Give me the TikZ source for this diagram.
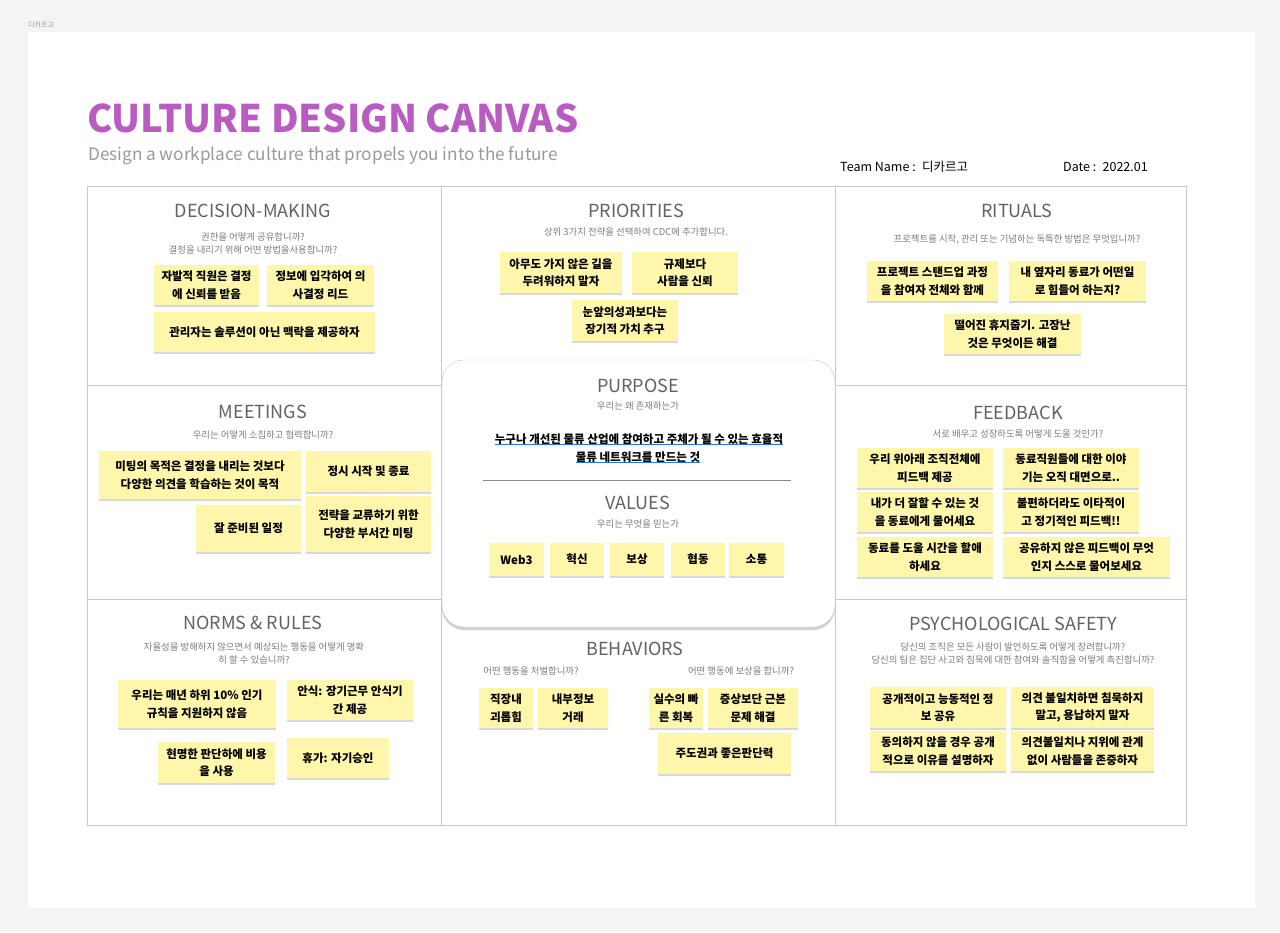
\documentclass[tikz,border=0pt]{standalone}
\usepackage{fontspec}
\setmainfont{Noto Sans CJK KR}
\usetikzlibrary{shadows}

\definecolor{canvasgray}{HTML}{F4F4F4}
\definecolor{titlepurple}{HTML}{B85CC2}
\definecolor{subgray}{HTML}{9A9A9A}
\definecolor{headgray}{HTML}{626262}
\definecolor{askgray}{HTML}{7C7C7C}
\definecolor{gridgray}{HTML}{C8C8C8}
\definecolor{noteyellow}{HTML}{FEF6AA}
\definecolor{linkblue}{HTML}{1F7AE0}

\tikzset{
  sticky/.style={fill=noteyellow, inner sep=0pt, align=center,
    font=\fontsize{11.5}{17.5}\selectfont\bfseries,
    drop shadow={shadow xshift=0pt, shadow yshift=-1.5pt, opacity=.25, fill=black!60}},
  size/.style 2 args={minimum width=#1pt, minimum height=#2pt},
  cellhead/.style={text=headgray, font=\fontsize{18}{20}\selectfont},
  cellask/.style={text=askgray, align=center, font=\fontsize{9.4}{13}\selectfont},
  gridline/.style={draw=gridgray, line width=1pt},
  purposeline/.style={font=\fontsize{11.5}{14}\selectfont\bfseries, inner sep=0pt},
}

\begin{document}
\begin{tikzpicture}[x=1pt, y=-1pt]

% page and canvas
\fill[canvasgray] (0,0) rectangle (1280,932);
\fill[white] (28,32) rectangle (1255,908);
\node[anchor=west, text=subgray, font=\fontsize{7}{8}\selectfont, inner sep=0pt] (board) at (28,25) {디카르고};

% header
\node[anchor=base west, inner sep=0pt, text=titlepurple, font=\fontsize{38}{38}\selectfont\bfseries] (title) at (87,132) {CULTURE DESIGN CANVAS};
\node[anchor=base west, inner sep=0pt, text=subgray, font=\fontsize{17.2}{20}\selectfont] (subtitle) at (88,160) {Design a workplace culture that propels you into the future};
\node[anchor=west, inner sep=0pt, font=\fontsize{12.5}{14}\selectfont] (team) at (840,167) {Team Name :\enspace 디카르고};
\node[anchor=west, inner sep=0pt, font=\fontsize{12.5}{14}\selectfont] (date) at (1063,167) {Date :\enspace 2022.01};

% grid
\draw[gridline] (87,186) rectangle (1186,825);
\draw[gridline] (441,186) -- (441,825);
\draw[gridline] (835,186) -- (835,825);
\draw[gridline] (87,385) -- (1186,385);
\draw[gridline] (87,599) -- (1186,599);

% decision-making
\node[cellhead] (dmhead) at (253,211) {DECISION-MAKING};
\node[cellask] (dmask) at (253,243) {권한을 어떻게 공유합니까?\\결정을 내리기 위해 어떤 방법을사용합니까?};
\node[sticky, size={105}{40}] (dm1) at (206.5,285) {자발적 직원은 결정\\에 신뢰를 받음};
\node[sticky, size={107}{40}] (dm2) at (320.5,285) {정보에 입각하여 의\\사결정 리드};
\node[sticky, size={221}{40}] (dm3) at (264.5,332) {관리자는 솔루션이 아닌 맥락을 제공하자};

% priorities
\node[cellhead] (prhead) at (636,211) {PRIORITIES};
\node[cellask] (prask) at (636,232) {상위 3가지 전략을 선택하여 CDC에 추가합니다.};
\node[sticky, size={122}{41}] (pr1) at (561,272.5) {아무도 가지 않은 길을\\두려워하지 말자};
\node[sticky, size={106}{41}] (pr2) at (685,272.5) {규제보다\\사람을 신뢰};
\node[sticky, size={106}{41}] (pr3) at (625,320.5) {눈앞의성과보다는\\장기적 가치 추구};

% rituals
\node[cellhead] (rihead) at (1017,211) {RITUALS};
\node[cellask] (riask) at (1017,240) {프로젝트를 시작, 관리 또는 기념하는 독특한 방법은 무엇입니까?};
\node[sticky, size={131}{40}] (ri1) at (932.5,281) {프로젝트 스탠드업 과정\\을 참여자 전체와 함께};
\node[sticky, size={137}{40}] (ri2) at (1077.5,281) {내 옆자리 동료가 어떤일\\로 힘들어 하는지?};
\node[sticky, size={137}{40}] (ri3) at (1012.5,334) {떨어진 휴지줍기. 고장난\\것은 무엇이든 해결};

% meetings
\node[cellhead] (mehead) at (263,412) {MEETINGS};
\node[cellask] (meask) at (263,435) {우리는 어떻게 소집하고 협력합니까?};
\node[sticky, size={202}{48}] (me1) at (200,475) {미팅의 목적은 결정을 내리는 것보다\\다양한 의견을 학습하는 것이 목적};
\node[sticky, size={125}{41}] (me2) at (368.5,471.5) {정시 시작 및 종료};
\node[sticky, size={105}{47}] (me3) at (248.5,528.5) {잘 준비된 일정};
\node[sticky, size={125}{56}] (me4) at (368.5,524) {전략을 교류하기 위한\\다양한 부서간 미팅};

% feedback
\node[cellhead] (fbhead) at (1018,413) {FEEDBACK};
\node[cellask] (fbask) at (1018,434) {서로 배우고 성장하도록 어떻게 도울 것인가?};
\node[sticky, size={136}{40}] (fb1) at (925,468) {우리 위아래 조직전체에\\피드백 제공};
\node[sticky, size={136}{40}] (fb2) at (1071,468) {동료직원들에 대한 이야\\기는 오직 대면으로..};
\node[sticky, size={136}{40}] (fb3) at (925,512) {내가 더 잘할 수 있는 것\\을 동료에게 물어세요};
\node[sticky, size={136}{40}] (fb4) at (1071,512) {불편하더라도 이타적이\\고 정기적인 피드백!!};
\node[sticky, size={136}{40}] (fb5) at (925,557) {동료를 도울 시간을 할애\\하세요};
\node[sticky, size={167}{40}] (fb6) at (1086.5,557) {공유하지 않은 피드백이 무엇\\인지 스스로 물어보세요};

% norms & rules
\node[cellhead] (nrhead) at (253,623) {NORMS \& RULES};
\node[cellask] (nrask) at (254,653) {자율성을 방해하지 않으면서 예상되는 행동을 어떻게 명확\\히 할 수 있습니까?};
\node[sticky, size={158}{48}] (nr1) at (197,704) {우리는 매년 하위 10\% 인기\\규칙을 지원하지 않음};
\node[sticky, size={126}{40}] (nr2) at (350,700) {안식: 장기근무 안식기\\간 제공};
\node[sticky, size={117}{41}] (nr3) at (216.5,762.5) {현명한 판단하에 비용\\을 사용};
\node[sticky, size={102}{40}] (nr4) at (338,758) {휴가: 자기승인};

% behaviors
\node[cellhead] (behead) at (635,649) {BEHAVIORS};
\node[cellask] (beask1) at (531,671) {어떤 행동을 처벌합니까?};
\node[cellask] (beask2) at (741,671) {어떤 행동에 보상을 합니까?};
\node[sticky, size={54}{40}] (be1) at (506,708) {직장내\\괴롭힘};
\node[sticky, size={70}{40}] (be2) at (573,708) {내부정보\\거래};
\node[sticky, size={54}{40}] (be3) at (676,708) {실수의 빠\\른 회복};
\node[sticky, size={90}{40}] (be4) at (753,708) {증상보단 근본\\문제 해결};
\node[sticky, size={133}{41}] (be5) at (724.5,753.5) {주도권과 좋은판단력};

% psychological safety
\node[cellhead] (pshead) at (1013,624) {PSYCHOLOGICAL SAFETY};
\node[cellask] (psask) at (1013,653) {당신의 조직은 모든 사람이 발언하도록 어떻게 장려합니까?\\당신의 팀은 집단 사고와 침묵에 대한 참여와 솔직함을 어떻게 촉진합니까?};
\node[sticky, size={136}{41}] (ps1) at (938,707.5) {공개적이고 능동적인 정\\보 공유};
\node[sticky, size={143}{41}] (ps2) at (1082.5,707.5) {의견 불일치하면 침묵하지\\말고, 용납하지 말자};
\node[sticky, size={136}{40}] (ps3) at (938,751) {동의하지 않을 경우 공개\\적으로 이유를 설명하자};
\node[sticky, size={143}{40}] (ps4) at (1082.5,751) {의견불일치나 지위에 관계\\없이 사람들을 존중하자};

% purpose and values
\draw[draw=gridgray, fill=white, rounded corners=22pt,
  drop shadow={shadow xshift=0pt, shadow yshift=-3pt, opacity=.18, fill=black}]
  (442,360) rectangle (835,627);
\node[cellhead] (puhead) at (638,386) {PURPOSE};
\node[cellask] (puask) at (638,406) {우리는 왜 존재하는가};
\node[purposeline, anchor=base] (pline1) at (639,443) {누구나 개선된 물류 산업에 참여하고 주체가 될 수 있는 효율적};
\node[purposeline, anchor=base] (pline2) at (638,461) {물류 네트워크를 만드는 것};
\draw[linkblue, line width=1.6pt] ([yshift=-1.5pt]pline1.base west) -- ([yshift=-1.5pt]pline1.base east);
\draw[linkblue, line width=1.6pt] ([yshift=-1.5pt]pline2.base west) -- ([yshift=-1.5pt]pline2.base east);
\draw[draw=black!45, line width=1pt] (483,480) -- (791,480);
\node[cellhead] (vahead) at (638,503) {VALUES};
\node[cellask] (vaask) at (638,524) {우리는 무엇을 믿는가};
\node[sticky, size={55}{33}] (va1) at (516.5,559.5) {Web3};
\node[sticky, size={54}{33}] (va2) at (577,559.5) {혁신};
\node[sticky, size={54}{33}] (va3) at (637,559.5) {보상};
\node[sticky, size={54}{33}] (va4) at (698,559.5) {협동};
\node[sticky, size={55}{33}] (va5) at (756.5,559.5) {소통};

\end{tikzpicture}
\end{document}
